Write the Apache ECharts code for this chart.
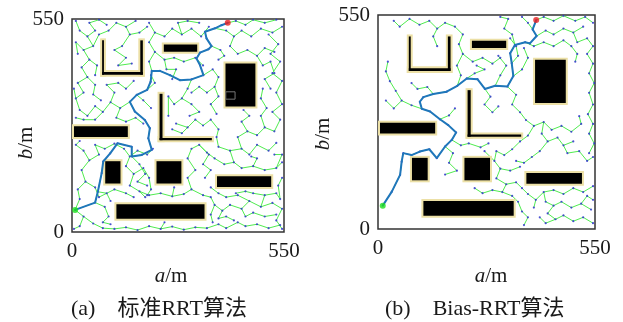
<!DOCTYPE html>
<html><head><meta charset="utf-8">
<script src="https://cdn.jsdelivr.net/npm/echarts@6/dist/echarts.min.js"></script>
<style>html,body{margin:0;padding:0;background:#fff}#c{width:623px;height:322px}</style>
</head><body><div id="c"></div>
<script>
// ---------- data ----------
const axisMin = 0, axisMax = 550;
const tickValues = [0, 550];
// obstacles [x0, y0, x1, y1] (m)
const obstacles = [
  [73,401,88,500],[73,401,189,418],[172,401,189,500],
  [233,460,330,489],
  [393,319,481,440],
  [222,232,240,362],[222,232,368,248],
  [0,240,150,278],
  [81,120,131,188],
  [214,120,289,188],
  [371,111,522,149],
  [110,29,349,77]
];
const markerBoxA = [[399,343,423,362]];
const startA = [8,57], goalA = [404,540];
const startB = [12,60], goalB = [401,537];
const pathA = [[8,57],[60,76],[67,104],[77,152],[81,182],[99,203],[118,229],[155,220],[155,195],[181,199],[207,212],[198,242],[202,268],[189,289],[163,311],[150,336],[168,354],[195,367],[204,388],[207,416],[228,416],[254,405],[280,392],[310,394],[341,405],[332,431],[323,448],[332,463],[354,472],[362,480],[349,500],[345,517],[371,526],[388,534],[404,540]];
const pathB = [[12,60],[35,96],[56,139],[60,173],[64,195],[85,190],[106,199],[130,205],[149,182],[170,212],[187,229],[198,248],[178,267],[157,282],[132,302],[111,309],[106,327],[115,339],[140,347],[174,353],[201,368],[225,387],[252,385],[271,360],[297,368],[328,366],[343,393],[339,426],[335,452],[347,473],[373,480],[385,477],[402,496],[392,513],[401,537]];
// tree branches (flat x,y lists; first point is the node the branch grows from)
const treeA = [
  [8,57,30,40,55,22,80,10,110,8,140,12],
  [8,57,20,85,15,110,35,130,25,160,45,185,30,210],
  [35,130,60,115,70,90,90,100,100,80],
  [30,40,20,15,5,8],
  [45,185,70,200,60,225,85,215,110,228],
  [30,210,10,225,20,235],
  [110,228,135,215,150,195,170,210,195,200,210,215],
  [150,195,140,170,160,150,150,120,175,105,190,90],
  [160,150,185,165,200,140,205,110,195,95],
  [140,12,170,5,200,15,230,8,260,14,290,6,320,12,350,10],
  [175,105,200,95,230,100,260,92,290,98,310,110],
  [310,110,300,140,320,160,300,190,310,215,330,225],
  [310,110,340,95,360,90,370,70,390,55,410,70],
  [350,10,380,20,400,10,430,25,450,15,480,20,510,10,540,18],
  [390,55,380,35,400,40,420,30],
  [410,70,440,60,460,80,490,65,520,75,545,60],
  [440,60,450,40,470,50,500,40,530,45],
  [490,65,500,95,530,100,540,85,535,120,545,140],
  [460,80,430,95,400,90,380,100,360,115],
  [330,225,350,205,370,190,395,175,420,180,440,165],
  [440,165,470,170,500,160,530,165,545,180],
  [420,180,410,210,380,220,375,245,380,265],
  [410,210,440,215,460,200,480,225,510,210,530,230],
  [440,215,430,245,455,260,480,250,500,270,525,260],
  [380,265,360,290,340,275,320,290,300,270,270,280],
  [525,260,540,290,520,310,545,330,530,360,545,390],
  [500,270,490,300,505,320],
  [545,390,520,410,540,440,515,460,535,485,510,510],
  [150,336,125,320,100,335,80,310,60,325,40,300,20,315],
  [125,320,115,295,140,285,165,295,185,280],
  [100,335,110,360,90,380,120,385,140,370,160,390],
  [168,354,185,340,205,320],
  [80,310,60,290,30,290,10,295],
  [20,315,10,345,30,360,15,385,40,400,25,425],
  [40,400,60,380,55,355,75,340],
  [25,425,45,445,30,470,55,480,40,505,60,520,45,540],
  [45,445,65,430,60,405],
  [40,505,20,520,10,545],
  [55,480,70,510,95,520,115,540,140,530,165,545],
  [140,530,150,510,175,515,195,530],
  [150,510,130,480,110,470,140,450,120,430,155,435],
  [207,416,200,440,215,465,200,490,215,515,200,540],
  [215,465,240,445,265,450,290,440,320,450,340,430],
  [240,445,245,420,270,420,260,395],
  [215,515,240,505,260,525,285,510,310,525,335,505,355,530],
  [285,510,275,540,300,545,330,540],
  [341,405,365,420,380,400,370,375,350,360,330,375,310,360],
  [370,375,380,350,360,330,375,305],
  [371,526,400,520,420,505,440,520,465,505,490,525,520,515,545,530],
  [420,505,410,480,430,460,455,470,480,455,500,475,525,465],
  [480,455,495,430,515,440,525,410,500,395,515,370],
  [404,540,425,545,450,535,470,548,500,540,530,548],
  [362,480,385,470,395,455,380,445],
  [310,394,300,370,285,345,265,330,250,350,250,300],
  [285,345,310,330,330,310,305,300],
  [300,270,285,255,260,265],
  [195,367,215,385,205,405],
  [60,76,85,65,95,40,80,25,100,20],
  [67,104,90,100,110,110,140,100,160,90],
  [155,195,175,175,190,150,170,130,195,120],
  [330,225,355,200,340,175,360,160,345,140],
  [545,60,530,30,545,8],
  [370,70,360,45,365,25],
  [500,95,470,100,450,105,425,100],
  [530,165,545,200,525,200],
  [45,540,70,548,90,535],
  [10,345,5,370],
  [30,470,10,490,15,460],
  [260,92,265,115],
  [230,8,240,25],
  [470,170,480,190,465,195],
  [455,260,440,285,460,300,445,315],
  [505,320,490,345,495,370],
  [8,57,60,76,67,104,77,152,81,182,99,203,118,229,155,220,155,195,181,199,207,212,198,242,202,268,189,289,163,311,150,336,168,354,195,367,204,388,207,416,228,416,254,405,280,392,310,394,341,405,332,431,323,448,332,463,354,472,362,480,349,500,345,517,371,526,388,534,404,540]
];
const treeB = [
  [111,309,85,318,60,330,40,310,20,330],
  [60,330,45,355,30,380,20,405,25,430],
  [170,212,190,195,180,170,200,150,170,140],
  [187,229,210,215,230,220,260,210,280,220],
  [201,368,210,395,200,420,215,450,205,475,215,500,195,520],
  [195,520,170,530,150,515,130,535,105,525,80,540,55,520,40,535],
  [150,515,140,495,150,470],
  [215,450,240,430,265,440,290,425,310,440],
  [225,387,245,400,270,410,250,420],
  [271,360,285,340,270,320,290,300,305,315],
  [297,368,310,395,325,420,305,445],
  [328,366,350,345,340,320,360,300,375,280],
  [343,393,365,410,380,440,370,465],
  [339,426,355,445,350,470,335,490],
  [347,473,340,500,320,515,330,540,310,545],
  [373,480,395,470,420,480,445,470,470,485,490,470],
  [402,496,425,510,445,500,470,515,495,505,520,520],
  [392,513,380,530,365,545],
  [401,537,420,545,445,535,470,548,500,535,525,545,545,530],
  [495,505,505,480,530,490,545,470,530,450],
  [530,450,545,425,535,400,548,375,535,350,545,320,532,295,545,270,535,245,548,220,535,195],
  [490,470,505,450,500,430],
  [375,280,395,265,420,275,440,255,465,265,490,250],
  [395,265,380,240,360,225,340,205,320,190,300,200],
  [420,275,415,245,430,225,455,235,470,215,495,225],
  [430,225,410,200,390,185,370,170,350,175],
  [470,215,480,195,510,200,530,175,545,185],
  [490,250,515,270,510,290],
  [300,200,295,175,310,155,300,130,325,115,315,95,340,85,355,70],
  [310,155,335,150,360,160],
  [325,115,350,120,365,105,380,90,400,75,395,55],
  [400,75,420,95,445,100,470,90,495,105,520,95,545,110],
  [420,95,425,70,445,60,465,70,490,55,515,65,540,50],
  [445,60,430,40,450,25,470,35,495,20,520,30,545,15],
  [450,25,425,15,410,30],
  [515,65,530,85,545,75],
  [295,175,270,200],
  [315,95,290,100,265,92,245,105],
  [157,282,180,292,195,310],
  [140,347,125,365,100,360,85,375],
  [355,70,365,45,380,30,370,10],
  [12,60,35,96,56,139,60,173,64,195,85,190,106,199,130,205,149,182,170,212,187,229,198,248,178,267,157,282,132,302,111,309,106,327,115,339,140,347,174,353,201,368,225,387,252,385,271,360,297,368,328,366,343,393,339,426,335,452,347,473,373,480,385,477,402,496,392,513,401,537]
];

// ---------- helpers ----------
function toLines(br){ return br.map(b=>{const c=[];for(let i=0;i<b.length;i+=2)c.push([b[i],b[i+1]]);return {coords:c};}); }
function toNodes(br){ const s=new Set(), out=[]; br.forEach(b=>{for(let i=0;i<b.length;i+=2){const k=b[i]+','+b[i+1]; if(!s.has(k)){s.add(k);out.push([b[i],b[i+1]]);}}}); return out; }

const FONT = '"Liberation Serif","Times New Roman",serif';
const CJK = '"Liberation Serif","Noto Sans CJK SC",serif';
const grids = [
  {left:72, top:19, width:212, height:213},
  {left:378, top:15, width:217, height:214}
];
function rectRender(pad, fill, stroke){
  return function(params, api){
    const p0 = api.coord([api.value(0), api.value(1)]);
    const p1 = api.coord([api.value(2), api.value(3)]);
    const x = Math.min(p0[0],p1[0])+pad, y = Math.min(p0[1],p1[1])+pad;
    const w = Math.abs(p1[0]-p0[0])-2*pad, h = Math.abs(p1[1]-p0[1])-2*pad;
    return {type:'rect', shape:{x:x,y:y,width:w,height:h}, style:{fill:fill, stroke:stroke||null, lineWidth:stroke?1:0}};
  };
}
const series = [];
const panels = [
  {tree:treeA, path:pathA, start:startA, goal:goalA, marker:markerBoxA},
  {tree:treeB, path:pathB, start:startB, goal:goalB, marker:null}
];
panels.forEach((p,k)=>{
  const ax = {xAxisIndex:k, yAxisIndex:k};
  series.push(Object.assign({type:'lines', coordinateSystem:'cartesian2d', polyline:true, silent:true, z:1,
    lineStyle:{color:'#4fec4f', width:1, opacity:1}, data:toLines(p.tree)}, ax));
  series.push(Object.assign({type:'scatter', symbolSize:2.2, z:2, silent:true,
    itemStyle:{color:'#2828d0'}, data:toNodes(p.tree)}, ax));
  series.push(Object.assign({type:'custom', z:3, clip:true, silent:true, encode:{x:[0,2], y:[1,3]},
    renderItem:rectRender(0,'#ece0a6'), data:obstacles}, ax));
  series.push(Object.assign({type:'custom', z:4, clip:true, silent:true, encode:{x:[0,2], y:[1,3]},
    renderItem:rectRender(2,'#000'), data:obstacles}, ax));
  if (p.marker) series.push(Object.assign({type:'custom', z:5, clip:true, silent:true, encode:{x:[0,2], y:[1,3]},
    renderItem:rectRender(0,'rgba(0,0,0,0)','#777'), data:p.marker}, ax));
  series.push(Object.assign({type:'line', z:6, silent:true, showSymbol:false, symbol:'none',
    lineStyle:{color:'#1f76bb', width:2}, data:p.path}, ax));
  series.push(Object.assign({type:'scatter', z:7, silent:true, symbolSize:6, itemStyle:{color:'#1ee01e'}, data:[p.start]}, ax));
  series.push(Object.assign({type:'scatter', z:7, silent:true, symbolSize:6, itemStyle:{color:'#e82020'}, data:[p.goal]}, ax));
});
function mkAxis(k, isX){
  return {type:'value', gridIndex:k, min:axisMin, max:axisMax, interval:axisMax-axisMin,
    axisLine:{show:false}, axisTick:{show:false}, splitLine:{show:false},
    axisLabel:{show:true, fontFamily:FONT, fontSize:21, color:'#1a1a1a', margin:isX?9:8,
      showMinLabel:true, showMaxLabel:true,
      formatter:function(v){ return tickValues.indexOf(v)>=0 ? String(v) : ''; }}};
}
const titleRich = {i:{fontStyle:'italic', fontFamily:FONT, fontSize:21, fill:'#1a1a1a'}};
const graphics = [
  {type:'text', x:171, y:276, style:{text:'{i|a}/m', rich:titleRich, fontFamily:FONT, fontSize:21, fill:'#1a1a1a', textAlign:'center', textVerticalAlign:'middle'}},
  {type:'text', x:491, y:276, style:{text:'{i|a}/m', rich:titleRich, fontFamily:FONT, fontSize:21, fill:'#1a1a1a', textAlign:'center', textVerticalAlign:'middle'}},
  {type:'text', x:26, y:143, rotation:Math.PI/2, style:{text:'{i|b}/m', rich:titleRich, fontFamily:FONT, fontSize:21, fill:'#1a1a1a', textAlign:'center', textVerticalAlign:'middle'}},
  {type:'text', x:323, y:134, rotation:Math.PI/2, style:{text:'{i|b}/m', rich:titleRich, fontFamily:FONT, fontSize:21, fill:'#1a1a1a', textAlign:'center', textVerticalAlign:'middle'}},
  {type:'text', x:71, y:309, style:{text:'(a)\u3000标准RRT算法', fontFamily:CJK, fontSize:22, fill:'#1a1a1a', textAlign:'left', textVerticalAlign:'middle'}},
  {type:'text', x:385, y:309, style:{text:'(b)\u3000Bias-RRT算法', fontFamily:CJK, fontSize:22, fill:'#1a1a1a', textAlign:'left', textVerticalAlign:'middle'}}
];
const chart = echarts.init(document.getElementById('c'), null, {renderer:'canvas'});
chart.setOption({
  animation:false,
  backgroundColor:'#fff',
  grid: grids.map(g=>Object.assign({show:true, borderColor:'#333', borderWidth:1.5, backgroundColor:'#fff'}, g)),
  xAxis:[mkAxis(0,true), mkAxis(1,true)],
  yAxis:[mkAxis(0,false), mkAxis(1,false)],
  series: series,
  graphic: graphics
});
</script></body></html>
